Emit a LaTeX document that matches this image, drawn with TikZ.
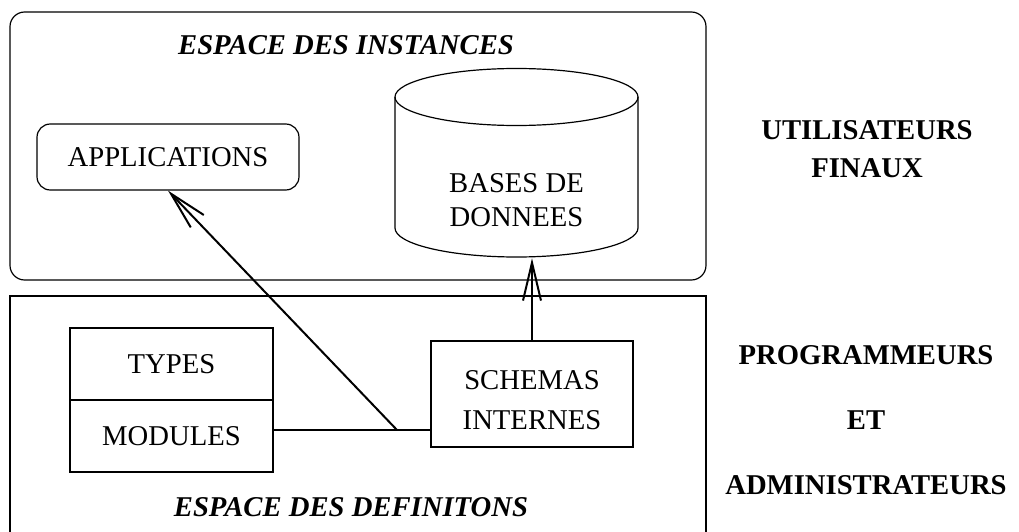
\documentclass[tikz,border=0pt]{standalone}
\usepackage{fontspec}
\setmainfont{Liberation Serif}
\usetikzlibrary{arrows.meta}

\tikzset{
  frame/.style={draw, line width=0.9pt},
  box/.style={draw, line width=0.9pt, inner sep=0pt, align=center,
    font=\fontsize{21.5}{28.5}\selectfont},
  conn/.style={line width=1.5pt},
  barb/.style={-{Straight Barb[length=28.5pt, width=13.5pt, line width=1.5pt]}},
  title/.style={font=\fontsize{21.5}{28.5}\selectfont\bfseries\itshape},
  role/.style={align=center, font=\fontsize{21.5}{28.5}\selectfont\bfseries},
}

\begin{document}
\begin{tikzpicture}[x=0.75pt, y=-0.75pt]
  \useasboundingbox (0,0) rectangle (1019,531);

  % the two spaces
  \draw[frame, rounded corners=11pt] (10,12) rectangle (706,280);
  \draw[frame] (10,296) rectangle (706,534);
  \node[title] (inst) at (346,45) {ESPACE DES INSTANCES};
  \node[title] (defs) at (351,507) {ESPACE DES DEFINITONS};

  % instance space
  \node[box, rounded corners=10pt, minimum width=196.5pt, minimum height=49.5pt]
    (app) at (168,157) {APPLICATIONS};

  \node[minimum width=182.25pt, minimum height=142.5pt, inner sep=0pt]
    (db) at (516.5,163) {};
  \draw[frame] (395,97) -- (395,228)
    arc[start angle=180, end angle=0, x radius=121.5, y radius=29] -- (638,97);
  \draw[frame] (516.5,97) ellipse [x radius=121.5, y radius=28.5];
  \node[align=center, font=\fontsize{21.5}{25.5}\selectfont]
    (dbtext) at (516.5,200) {BASES DE\\DONNEES};

  % definition space
  \node[box, minimum width=152.25pt, minimum height=54pt] (types) at (171.5,364) {TYPES};
  \node[box, minimum width=152.25pt, minimum height=54pt] (modules) at (171.5,436) {MODULES};
  \node[box, minimum width=151.5pt, minimum height=79.5pt] (schemas) at (532,394) {};
  \node[align=center, font=\fontsize{21.5}{30}\selectfont]
    (schemastext) at (532,400) {SCHEMAS\\INTERNES};

  % connectors
  \coordinate (j) at (397,430);
  \draw[conn] (modules.east |- j) -- (j) -- (schemas.west |- j);
  \draw[conn, barb] (j) -- (app.south);
  \draw[conn, barb] (schemas.north) -- (schemas.north |- db.south);

  % user roles
  \node[role] (users) at (867,149) {UTILISATEURS\\FINAUX};
  \node[role, font=\fontsize{21.5}{48.75}\selectfont\bfseries] (admins) at (866,420)
    {PROGRAMMEURS\\ET\\ADMINISTRATEURS};
\end{tikzpicture}
\end{document}
